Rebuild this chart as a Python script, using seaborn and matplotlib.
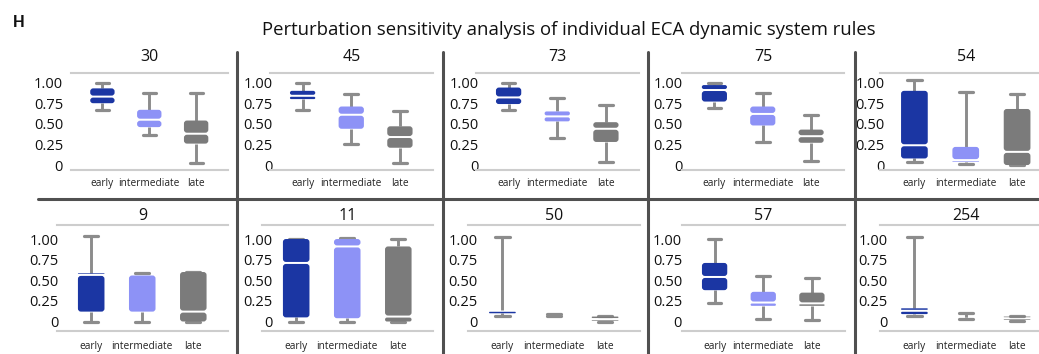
import matplotlib
matplotlib.use("Agg")
import matplotlib.pyplot as plt
import pandas as pd
import seaborn as sns
from matplotlib.lines import Line2D
from matplotlib.patches import FancyBboxPatch, PathPatch

# ECA rules shown, row by row
rules = [30, 45, 73, 75, 54, 9, 11, 50, 57, 254]
stages = ["early", "intermediate", "late"]

# Five-number summaries: one row per rule, columns = early / intermediate / late
lower_whisker = [
    [0.67, 0.36, 0.03],
    [0.67, 0.25, 0.02],
    [0.67, 0.33, 0.04],
    [0.69, 0.28, 0.05],
    [0.04, 0.01, 0.00],
    [0.00, 0.00, 0.00],
    [0.00, 0.00, 0.00],
    [0.07, 0.07, 0.00],
    [0.22, 0.03, 0.02],
    [0.07, 0.03, 0.01],
]
lower_quartile = [
    [0.75, 0.46, 0.26],
    [0.80, 0.44, 0.21],
    [0.74, 0.53, 0.28],
    [0.77, 0.48, 0.27],
    [0.08, 0.04, 0.00],
    [0.12, 0.12, 0.00],
    [0.05, 0.04, 0.00],
    [0.10, 0.08, 0.01],
    [0.38, 0.19, 0.19],
    [0.09, 0.06, 0.02],
]
medians = [
    [0.83, 0.55, 0.38],
    [0.84, 0.61, 0.34],
    [0.82, 0.59, 0.44],
    [0.91, 0.62, 0.35],
    [0.24, 0.06, 0.16],
    [0.565, 0.57, 0.12],
    [0.71, 0.91, 0.06],
    [0.13, 0.08, 0.03],
    [0.54, 0.23, 0.22],
    [0.13, 0.06, 0.04],
]
upper_quartile = [
    [0.93, 0.67, 0.54],
    [0.90, 0.71, 0.47],
    [0.94, 0.65, 0.52],
    [0.97, 0.71, 0.43],
    [0.90, 0.22, 0.68],
    [0.585, 0.58, 0.60],
    [1.00, 1.00, 0.91],
    [0.14, 0.08, 0.06],
    [0.71, 0.36, 0.35],
    [0.16, 0.06, 0.06],
]
upper_whisker = [
    [0.99, 0.87, 0.87],
    [1.00, 0.86, 0.65],
    [1.00, 0.81, 0.73],
    [1.00, 0.87, 0.61],
    [1.03, 0.88, 0.86],
    [1.04, 0.59, 0.60],
    [1.00, 1.01, 1.00],
    [1.03, 0.09, 0.07],
    [1.00, 0.55, 0.53],
    [1.03, 0.10, 0.07],
]

y_ticks = [0, 0.25, 0.5, 0.75, 1.0]
y_tick_labels = ["0", "0.25", "0.50", "0.75", "1.00"]

stage_colors = {"early": "#1b36a3", "intermediate": "#8d92f6", "late": "#7b7b7b"}
whisker_color = "#8c8c8c"
frame_color = "#cdcdcd"
divider_color = "#505050"

# long table: each box is described by its five summary values
records = []
for r_i, rule in enumerate(rules):
    for s_i, stage in enumerate(stages):
        for arr in (lower_whisker, lower_quartile, medians, upper_quartile, upper_whisker):
            records.append({"rule": rule, "stage": stage, "value": arr[r_i][s_i]})
df = pd.DataFrame(records)

sns.set_style("white")
plt.rcParams["font.family"] = ["Open Sans", "DejaVu Sans"]

W, H = 1039, 354
fig = plt.figure(figsize=(W / 100, H / 100), dpi=100)


def px_rect(left, right, top, bottom):
    return [left / W, 1 - bottom / H, (right - left) / W, (bottom - top) / H]


# panel geometry in pixels
row_spans = [(72.7, 170.0), (225.0, 331.0)]
row_ylims = [(-0.06, 1.12), (-0.115, 1.17)]
col_spans = [
    [(71, 228), (270, 433), (476, 639), (682, 844), (880, 1052)],
    [(57, 228), (262, 433), (468, 640), (682, 845), (880, 1052)],
]
label_right = [[63, 273, 479, 683, 885], [59, 273, 478, 682, 888]]
title_pad = [8.6, 3.8]
xlabel_pad = [5.5, 7.5]
xlim = (-0.67, 2.68)
box_width = 0.52

for idx, rule in enumerate(rules):
    row, col = divmod(idx, 5)
    top, bottom = row_spans[row]
    left, right = col_spans[row][col]
    ax = fig.add_axes(px_rect(left, right, top, bottom))
    sub = df[df["rule"] == rule]
    sns.boxplot(
        data=sub, x="stage", y="value", hue="stage",
        order=stages, hue_order=stages, palette=stage_colors,
        saturation=1, width=box_width, whis=(0, 100), showfliers=False,
        linewidth=2.0, linecolor=whisker_color, legend=False, ax=ax,
        capwidths=0.28,
        medianprops={"visible": False},
        whiskerprops={"color": whisker_color, "linewidth": 2.1},
        capprops={"color": whisker_color, "linewidth": 2.3},
    )
    ax.set_xlim(*xlim)
    ax.set_ylim(*row_ylims[row])

    # redraw each box as two rounded halves split by a white gap at the median
    px_x = ax.bbox.width / (xlim[1] - xlim[0])
    px_y = ax.bbox.height / (row_ylims[row][1] - row_ylims[row][0])
    aspect = px_x / px_y
    gap = 1.0 / px_y
    radius = 3.0 / px_x
    for patch in list(ax.patches):
        if not isinstance(patch, PathPatch):
            continue
        verts = patch.get_path().vertices
        x0, x1 = verts[:, 0].min(), verts[:, 0].max()
        y0, y1 = verts[:, 1].min(), verts[:, 1].max()
        s_i = int(round((x0 + x1) / 2))
        med = medians[idx][s_i]
        face = patch.get_facecolor()
        patch.remove()
        for lo, hi in ((y0, med - gap), (med + gap, y1)):
            h = hi - lo
            if h <= 0:
                continue
            w = x1 - x0
            dr = min(radius, w / 2, (h / aspect) / 2)
            ax.add_patch(FancyBboxPatch(
                (x0, lo), w, h,
                boxstyle=f"round,pad=0,rounding_size={dr}",
                mutation_aspect=aspect, facecolor=face, edgecolor="none",
                zorder=2.5,
            ))

    ax.set_xlabel("")
    ax.set_ylabel("")
    ax.set_yticks(y_ticks)
    ax.set_yticklabels(y_tick_labels)
    ypad = (left - label_right[row][col]) / 1.389
    ax.tick_params(axis="y", length=0, pad=ypad, labelsize=10.5, labelcolor="#111111")
    ax.tick_params(axis="x", length=0, pad=xlabel_pad[row], labelsize=7.3, labelcolor="#222222")
    for side in ("left", "right"):
        ax.spines[side].set_visible(False)
    for side in ("top", "bottom"):
        ax.spines[side].set_visible(True)
        ax.spines[side].set_color(frame_color)
        ax.spines[side].set_linewidth(1.5)
    ax.set_title(str(rule), fontsize=11.5, pad=title_pad[row], color="#111111")

# dividers between panels
for xv in (237, 443, 648, 855):
    fig.add_artist(Line2D([xv / W, xv / W], [1 - 52 / H, 0], color=divider_color,
                          linewidth=2.2, solid_capstyle="round"))
fig.add_artist(Line2D([38 / W, 1.0], [1 - 198.5 / H, 1 - 198.5 / H], color=divider_color,
                      linewidth=2.2, solid_capstyle="round"))

fig.text(569 / W, 1 - 35 / H,
         "Perturbation sensitivity analysis of individual ECA dynamic system rules",
         ha="center", va="baseline", fontsize=13.3, color="#111111")
fig.text(13 / W, 1 - 27 / H, "H", ha="left", va="baseline", fontsize=11.5,
         fontweight="bold", family=["Liberation Sans", "DejaVu Sans"], color="#111111")

fig.savefig("out.png", dpi=100)
